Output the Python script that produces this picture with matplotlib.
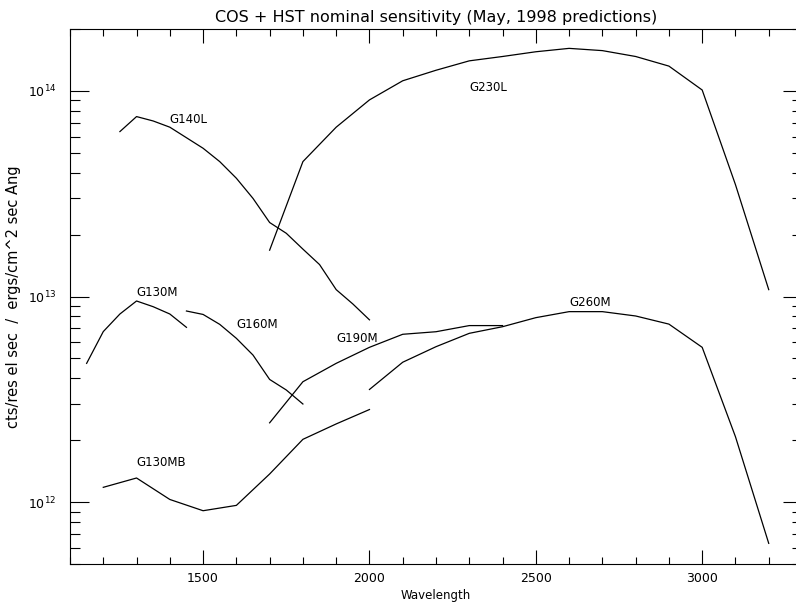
import matplotlib
matplotlib.use("Agg")
import matplotlib.pyplot as plt
from matplotlib.ticker import LogLocator, MultipleLocator, NullFormatter

# sensitivity curves (wavelength, cts/res el sec per erg/cm^2/sec/Ang)
g140l_wave = [1250, 1300, 1350, 1400, 1500, 1550, 1600, 1650, 1700, 1750, 1800, 1850, 1900, 1950, 2000]
g140l_sens = [6.34e13, 7.5e13, 7.14e13, 6.66e13, 5.26e13, 4.53e13, 3.76e13, 3.0e13, 2.29e13, 2.03e13,
              1.70e13, 1.43e13, 1.08e13, 9.2e12, 7.7e12]

g230l_wave = [1700, 1800, 1900, 2000, 2100, 2200, 2300, 2400, 2500, 2600, 2700, 2800, 2900, 3000, 3100, 3200]
g230l_sens = [1.68e13, 4.53e13, 6.66e13, 9.04e13, 1.12e14, 1.26e14, 1.40e14, 1.47e14, 1.55e14, 1.61e14,
              1.57e14, 1.47e14, 1.32e14, 1.01e14, 3.5e13, 1.08e13]

g130m_wave = [1150, 1200, 1250, 1300, 1350, 1400, 1450]
g130m_sens = [4.73e12, 6.75e12, 8.22e12, 9.51e12, 8.92e12, 8.22e12, 7.08e12]

g160m_wave = [1450, 1500, 1550, 1600, 1650, 1700, 1750, 1800]
g160m_sens = [8.5e12, 8.18e12, 7.32e12, 6.26e12, 5.19e12, 3.95e12, 3.51e12, 3.0e12]

g190m_wave = [1700, 1800, 1900, 2000, 2100, 2200, 2300, 2400]
g190m_sens = [2.43e12, 3.85e12, 4.73e12, 5.66e12, 6.55e12, 6.74e12, 7.22e12, 7.22e12]

g260m_wave = [2000, 2100, 2200, 2300, 2400, 2500, 2600, 2700, 2800, 2900, 3000, 3100, 3200]
g260m_sens = [3.53e12, 4.79e12, 5.70e12, 6.62e12, 7.13e12, 7.89e12, 8.44e12, 8.44e12, 8.04e12, 7.34e12,
              5.66e12, 2.08e12, 6.3e11]

g130mb_wave = [1200, 1300, 1400, 1500, 1600, 1700, 1800, 1900, 2000]
g130mb_sens = [1.18e12, 1.31e12, 1.03e12, 9.08e11, 9.64e11, 1.37e12, 2.02e12, 2.40e12, 2.82e12]

labels = ["G140L", "G230L", "G130M", "G160M", "G190M", "G260M", "G130MB"]
label_x = [1400, 2300, 1300, 1600, 1900, 2600, 1300]
label_y = [7.0e13, 1.0e14, 1.0e13, 7.0e12, 6.0e12, 9.0e12, 1.5e12]

plt.rcParams['font.family'] = ['DejaVu Sans']

fig = plt.figure(figsize=(7.96, 6.05), dpi=100)
ax = fig.add_axes([70/796, 41/605, 732/796, 535/605])

curves = [(g140l_wave, g140l_sens), (g230l_wave, g230l_sens), (g130m_wave, g130m_sens),
          (g160m_wave, g160m_sens), (g190m_wave, g190m_sens), (g260m_wave, g260m_sens),
          (g130mb_wave, g130mb_sens)]
for w, s in curves:
    ax.plot(w, s, color="black", lw=0.9)

for lab, lx, ly in zip(labels, label_x, label_y):
    ax.text(lx, ly, lab, fontsize=8.5, ha="left", va="baseline")

ax.set_yscale("log")
ax.set_xlim(1100, 3300)
ax.set_ylim(5e11, 2e14)

ax.xaxis.set_major_locator(MultipleLocator(500))
ax.xaxis.set_minor_locator(MultipleLocator(100))
ax.yaxis.set_major_locator(LogLocator(base=10))
ax.yaxis.set_minor_locator(LogLocator(base=10, subs=range(2, 10)))
ax.yaxis.set_minor_formatter(NullFormatter())

ax.tick_params(axis="x", which="both", direction="in", top=True, bottom=True, labelsize=9, pad=6)
ax.tick_params(axis="x", which="major", length=10, width=0.8)
ax.tick_params(axis="x", which="minor", length=5, width=0.8)
ax.tick_params(axis="y", which="both", direction="in", left=True, right=True, labelsize=9, pad=10)
ax.tick_params(axis="y", which="major", length=14, width=0.8)
ax.tick_params(axis="y", which="minor", length=7, width=0.8)
for sp in ax.spines.values():
    sp.set_linewidth(0.8)

ax.set_title("COS + HST nominal sensitivity (May, 1998 predictions)", fontsize=11.5, pad=5)
ax.set_xlabel("Wavelength", fontsize=8.5, labelpad=3)
ax.set_ylabel("cts/res el sec  /  ergs/cm^2 sec Ang", fontsize=10.5, labelpad=5)

plt.savefig("out.png", dpi=100)
